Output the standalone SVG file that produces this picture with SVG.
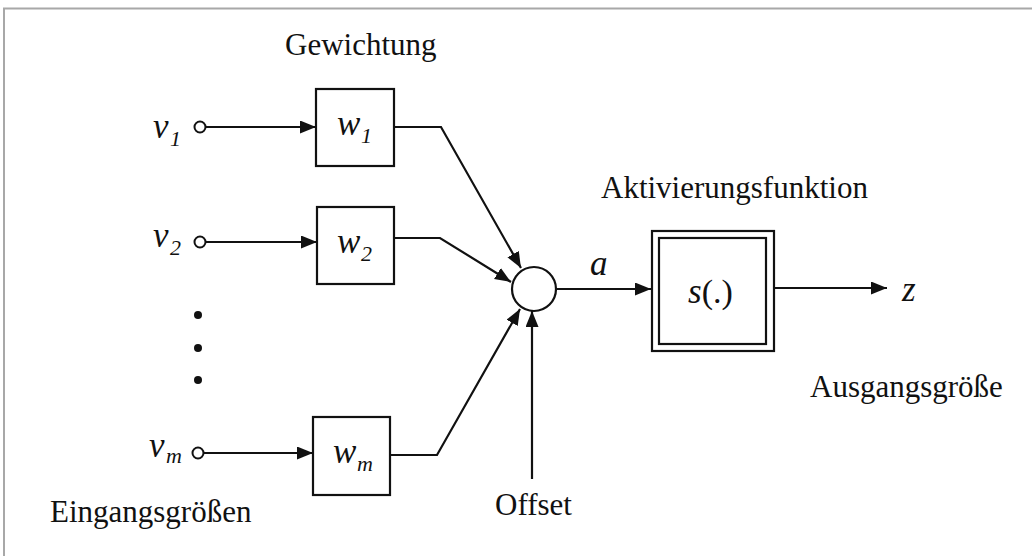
<svg xmlns="http://www.w3.org/2000/svg" width="1032" height="556" viewBox="0 0 1032 556">
<style>
.lbl{font-family:"Liberation Serif","Times New Roman",serif;font-size:31px;fill:#111}
.var{font-family:"Liberation Serif","Times New Roman",serif;font-style:italic;font-size:35px;fill:#111}
.sub{font-family:"Liberation Serif","Times New Roman",serif;font-style:italic;font-size:22px;fill:#111}
.up{font-family:"Liberation Serif","Times New Roman",serif;font-size:34px;fill:#111}
.box{fill:#fff;stroke:#111;stroke-width:2.2}
.wire{fill:none;stroke:#111;stroke-width:2.2;stroke-linejoin:miter}
.arr{marker-end:url(#ah)}
.term{fill:#fff;stroke:#111;stroke-width:2}
.dot{fill:#111}
</style>
<defs>
<marker id="ah" markerUnits="userSpaceOnUse" markerWidth="17" markerHeight="14" refX="16" refY="6.5" orient="auto">
<path d="M0,0 L16,6.5 L0,13 Z" fill="#111"/>
</marker>
</defs>
<rect x="0" y="0" width="1032" height="556" fill="#fff"/>
<rect x="4" y="8.5" width="1040" height="560" fill="none" stroke="#a8a8a8" stroke-width="2"/>

<g id="connectors">
<line class="wire arr" x1="205" y1="127" x2="316" y2="127"/>
<line class="wire arr" x1="205" y1="242" x2="317" y2="242"/>
<line class="wire arr" x1="203" y1="453" x2="313" y2="453"/>
<polyline class="wire arr" points="394,127 441,127 521,268"/>
<polyline class="wire arr" points="394,238 440,238 511,282"/>
<polyline class="wire arr" points="390,455 437,455 520,309"/>
<line class="wire arr" x1="532" y1="479" x2="532" y2="311"/>
<line class="wire arr" x1="556" y1="289" x2="651" y2="289"/>
<line class="wire arr" x1="774" y1="288" x2="887" y2="288"/>
</g>

<g id="input-v1">
<circle class="term" cx="200" cy="127" r="5.5"/>
<text class="var" x="153" y="138">v</text><text class="sub" x="170" y="146">1</text>
</g>
<g id="input-v2">
<circle class="term" cx="200" cy="242" r="5.5"/>
<text class="var" x="153" y="247">v</text><text class="sub" x="170" y="255">2</text>
</g>
<g id="input-vm">
<circle class="term" cx="198" cy="453" r="5.5"/>
<text class="var" x="149" y="457">v</text><text class="sub" x="166" y="463">m</text>
</g>
<g id="dots">
<circle class="dot" cx="198" cy="315" r="4"/>
<circle class="dot" cx="198" cy="348" r="4"/>
<circle class="dot" cx="198" cy="380" r="4"/>
</g>

<g id="weight-w1">
<rect class="box" x="316" y="89" width="78" height="77"/>
<text class="var" x="337" y="135">w</text><text class="sub" x="361" y="143">1</text>
</g>
<g id="weight-w2">
<rect class="box" x="317" y="207" width="77" height="77"/>
<text class="var" x="337" y="253">w</text><text class="sub" x="361" y="261">2</text>
</g>
<g id="weight-wm">
<rect class="box" x="313" y="417" width="77" height="78"/>
<text class="var" x="333" y="463">w</text><text class="sub" x="357" y="471">m</text>
</g>

<g id="sum">
<circle class="box" cx="534" cy="289" r="22"/>
</g>

<g id="activation">
<rect class="box" x="652" y="231" width="122" height="120"/>
<rect class="box" x="659" y="238" width="107" height="106"/>
<text x="688" y="303"><tspan class="var">s</tspan><tspan class="up">(.)</tspan></text>
</g>

<g id="labels">
<text class="lbl" x="285" y="55">Gewichtung</text>
<text class="lbl" x="601" y="198">Aktivierungsfunktion</text>
<text class="lbl" x="810" y="397">Ausgangsgröße</text>
<text class="lbl" x="50" y="522">Eingangsgrößen</text>
<text class="lbl" x="495" y="515">Offset</text>
<text class="var" x="590" y="275">a</text>
<text class="var" x="902" y="301">z</text>
</g>
</svg>
